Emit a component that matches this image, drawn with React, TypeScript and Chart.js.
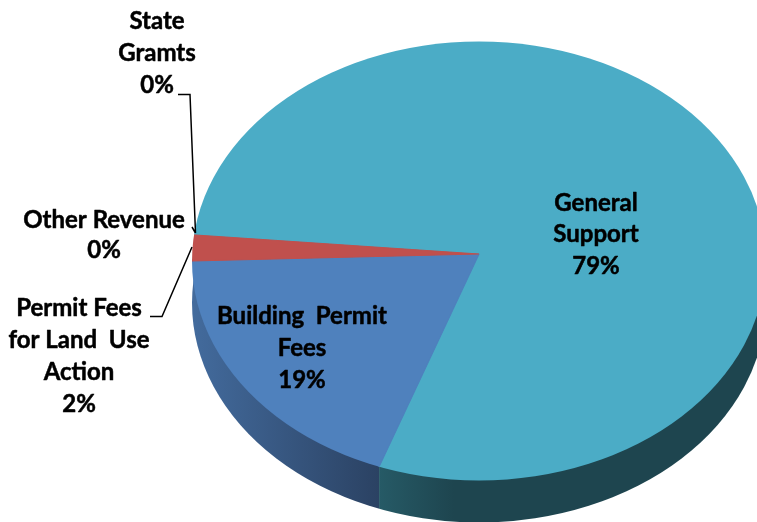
import React, { useEffect, useRef } from "react";
import { Chart, registerables } from "chart.js";

Chart.register(...registerables);

const categories = ["General Support", "Building Permit Fees", "Permit Fees for Land Use Action", "Other Revenue", "State Gramts"];
const shares = [79.1, 19.0, 1.9, 0, 0];
const sliceColors = ["#4bacc6", "#4f81bd", "#c0504d", "#9bbb59", "#8064a2"];
const labelLines = [["General", "Support"], ["Building  Permit", "Fees"], ["Permit Fees", "for Land  Use", "Action"], ["Other Revenue"], ["State", "Gramts"]];

const W = 757;
const H = 522;
const APEX = { x: 479, y: 254 };
const RIM = { x: 479, y: 261, rx: 287, ry: 219.5 };
const DEPTH = 42;
const LABEL_SPOTS = [
  { x: 596, y: 203, step: 31.5 },
  { x: 302, y: 316, step: 32 },
  { x: 79, y: 308, step: 32 },
  { x: 104, y: 220, step: 30 },
  { x: 157, y: 21, step: 32 },
];

function rimX(angle: number) {
  const dx = Math.cos(angle) * RIM.rx;
  const dy = Math.sin(angle) * RIM.ry;
  const ox = APEX.x - RIM.x;
  const oy = APEX.y - RIM.y;
  const a = (dx * dx) / (RIM.rx * RIM.rx) + (dy * dy) / (RIM.ry * RIM.ry);
  const b = 2 * ((ox * dx) / (RIM.rx * RIM.rx) + (oy * dy) / (RIM.ry * RIM.ry));
  const c = (ox * ox) / (RIM.rx * RIM.rx) + (oy * oy) / (RIM.ry * RIM.ry) - 1;
  const t = (-b + Math.sqrt(b * b - 4 * a * c)) / (2 * a);
  return APEX.x + dx * t;
}

const piePlugin = {
  id: "tiltedPie",
  beforeDatasetsDraw(chart: any) {
    const { ctx } = chart;
    const arcs = chart.getDatasetMeta(0).data;
    const boundary = rimX(arcs[0].endAngle);

    ctx.save();
    ctx.beginPath();
    ctx.ellipse(RIM.x, RIM.y + DEPTH, RIM.rx, RIM.ry, 0, 0, Math.PI * 2);
    ctx.clip();
    const blueWall = ctx.createLinearGradient(RIM.x - RIM.rx, 0, boundary, 0);
    blueWall.addColorStop(0, "#436b9d");
    blueWall.addColorStop(1, "#2b4263");
    ctx.fillStyle = blueWall;
    ctx.fillRect(0, 0, boundary, H);
    const tealWall = ctx.createLinearGradient(boundary, 0, boundary + 75, 0);
    tealWall.addColorStop(0, "#265a66");
    tealWall.addColorStop(1, "#1e454f");
    ctx.fillStyle = tealWall;
    ctx.fillRect(boundary, 0, W - boundary, H);
    ctx.restore();

    const R = arcs[0].outerRadius;
    const sx = 310 / R;
    const sy = sx * (RIM.ry / RIM.rx);
    ctx.save();
    ctx.beginPath();
    ctx.ellipse(RIM.x, RIM.y, RIM.rx, RIM.ry, 0, 0, Math.PI * 2);
    ctx.clip();
    ctx.translate(APEX.x, APEX.y);
    ctx.scale(sx, sy);
    ctx.translate(-arcs[0].x, -arcs[0].y);
  },
  afterDatasetsDraw(chart: any) {
    chart.ctx.restore();
  },
  afterDraw(chart: any) {
    const { ctx } = chart;
    ctx.save();
    ctx.strokeStyle = "#000";
    ctx.lineWidth = 1.5;
    ctx.beginPath();
    ctx.moveTo(178, 94.5);
    ctx.lineTo(190, 94.5);
    ctx.lineTo(195.5, 233);
    ctx.moveTo(192, 227);
    ctx.lineTo(195.5, 233);
    ctx.moveTo(150, 316.5);
    ctx.lineTo(162, 316.5);
    ctx.lineTo(192, 247);
    ctx.stroke();

    ctx.fillStyle = "#000";
    ctx.font = "bold 24px Lato";
    ctx.textAlign = "center";
    ctx.textBaseline = "middle";
    ctx.lineWidth = 0.5;
    ctx.lineJoin = "round";
    labelLines.forEach((lines, i) => {
      const spot = LABEL_SPOTS[i];
      const text = [...lines, `${Math.round(shares[i])}%`];
      text.forEach((line, n) => {
        ctx.fillText(line, spot.x, spot.y + n * spot.step);
        ctx.strokeText(line, spot.x, spot.y + n * spot.step);
      });
    });
    ctx.restore();
  },
};

export default function App() {
  const ref = useRef<HTMLCanvasElement>(null);
  useEffect(() => {
    document.body.style.margin = "0";
    document.body.style.background = "#fff";
    const chart = new Chart(ref.current!, {
      type: "pie",
      data: {
        labels: categories,
        datasets: [
          {
            data: shares,
            backgroundColor: sliceColors,
            borderColor: sliceColors,
            borderWidth: 1,
            clip: false,
          } as any,
        ],
      },
      options: {
        responsive: false,
        animation: false,
        rotation: -85,
        plugins: { legend: { display: false }, tooltip: { enabled: false } },
      },
      plugins: [piePlugin],
    });
    return () => chart.destroy();
  }, []);
  return <canvas ref={ref} width={W} height={H} style={{ display: "block" }} />;
}
